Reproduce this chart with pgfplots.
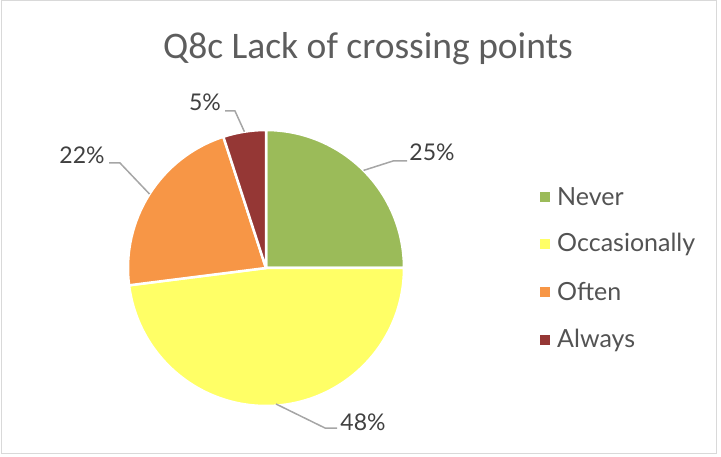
\documentclass[border=0pt]{standalone}
\usepackage{pgfplots}
\pgfplotsset{compat=1.18}
\usepackage{fontspec}
\setmainfont{Lato}
\newfontfamily\titlefont{Carlito}
\definecolor{cnever}{HTML}{9BBB59}
\definecolor{cocc}{HTML}{FFFF66}
\definecolor{coften}{HTML}{F79646}
\definecolor{calways}{HTML}{953735}
\definecolor{txt}{HTML}{404040}
\definecolor{leader}{HTML}{A6A6A6}
\definecolor{frame}{HTML}{D9D9D9}

\begin{document}
\begin{tikzpicture}
\begin{axis}[
    width=721pt, height=456pt, scale only axis,
    xmin=0, xmax=721, ymin=0, ymax=456,
    axis lines=none, clip=false, disabledatascaling
]
\pgfplotsextra{
  \path (axis cs:0,0) rectangle (axis cs:721,456);
  \draw[frame, line width=1pt] (axis cs:1,3) rectangle (axis cs:716,455);
  % slices, clockwise from 12 o'clock
  \def\a{90}
  \foreach \v/\c in {25/cnever, 48/cocc, 22/coften, 5/calways} {
    \pgfmathsetmacro\b{\a-3.6*\v}
    \filldraw[fill=\c, draw=white, line width=2.5pt, line join=round]
      (axis cs:266,188) -- ++(\a:138pt) arc[start angle=\a, end angle=\b, radius=138pt] -- cycle;
    \global\let\a\b
  }
  % leader lines
  \draw[leader, line width=1.5pt] (axis cs:363.6,285.6) -- (axis cs:393,295) -- (axis cs:407,295);
  \draw[leader, line width=1.5pt] (axis cs:276,52) -- (axis cs:325,28) -- (axis cs:337,28);
  \draw[leader, line width=1.5pt] (axis cs:149.5,262) -- (axis cs:120,293) -- (axis cs:109,293);
  \draw[leader, line width=1.5pt] (axis cs:244.4,324.3) -- (axis cs:235,345) -- (axis cs:225,345);
  % data labels
  \begin{scope}[every node/.style={text=txt, font=\fontsize{23}{26}\selectfont, inner sep=0pt}]
    \node at (axis cs:432,304) {25\%};
    \node at (axis cs:363,34) {48\%};
    \node at (axis cs:82,301) {22\%};
    \node at (axis cs:205,354) {5\%};
  \end{scope}
  % title
  \node[text=txt!85!white, font=\titlefont\fontsize{37.5}{42}\selectfont, inner sep=0pt]
    at (axis cs:368,407) {Q8c Lack of crossing points};
  % legend
  \foreach \c/\lab/\y in {cnever/Never/259, cocc/Occasionally/212, coften/Often/164, calways/Always/116} {
    \fill[\c] (axis cs:540,\y-5) rectangle (axis cs:550,\y+5);
    \node[anchor=west, text=txt!90!white, font=\fontsize{25}{28}\selectfont, inner sep=0pt]
      at (axis cs:557,\y) {\lab};
  }
}
\end{axis}
\end{tikzpicture}
\end{document}
